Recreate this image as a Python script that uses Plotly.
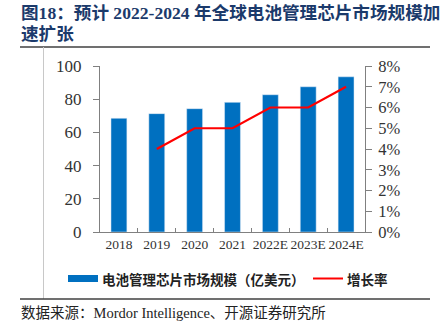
import plotly.graph_objects as go

years = ["2018", "2019", "2020", "2021", "2022E", "2023E", "2024E"]
market_size = [68.5, 71.3, 74.3, 78.1, 82.7, 87.5, 93.5]
growth_years = ["2019", "2020", "2021", "2022E", "2023E", "2024E"]
growth_rate = [0.04, 0.05, 0.05, 0.06, 0.06, 0.07]
left_ticks = [0, 20, 40, 60, 80, 100]
right_ticks = [0, 0.01, 0.02, 0.03, 0.04, 0.05, 0.06, 0.07, 0.08]

title_line1 = "图18：预计 2022-2024 年全球电池管理芯片市场规模加"
title_line2 = "速扩张"
bar_name = "电池管理芯片市场规模（亿美元）"
line_name = "增长率"
source_text = "数据来源：Mordor Intelligence、开源证券研究所"

W, H = 440, 335
L, R, T, B = 100, 365, 66, 232

def px(x):
    return (x - L) / (R - L)

def py(y):
    return (B - y) / (B - T)

BLUE = "#0070C0"
RED = "#FF0000"
AX = "#808080"
SERIF = "Liberation Serif, Times New Roman, Noto Sans CJK SC, serif"
SANS = "Noto Sans CJK SC, sans-serif"

fig = go.Figure()
fig.add_trace(go.Bar(x=years, y=market_size, name=bar_name, marker_color=BLUE,
                     width=0.42, yaxis="y", showlegend=False))
fig.add_trace(go.Scatter(x=growth_years, y=growth_rate, name=line_name, mode="lines",
                         line=dict(color=RED, width=2.2), yaxis="y2", showlegend=False))

fig.update_layout(
    width=W, height=H,
    margin=dict(l=L, r=W - R, t=T, b=H - B),
    paper_bgcolor="white", plot_bgcolor="white",
    xaxis=dict(type="category", showline=True, linecolor=AX, linewidth=1,
               ticks="inside", tickson="boundaries", ticklen=4, tickcolor=AX,
               tickangle=0,
               tickfont=dict(family=SERIF, size=13.5, color="#333333"),
               showgrid=False, zeroline=False),
    yaxis=dict(range=[0, 100], tickvals=left_ticks, showline=True, linecolor=AX,
               linewidth=1, ticks="outside", ticklen=6, tickcolor=AX,
               tickfont=dict(family=SERIF, size=17, color="#333333"),
               ticklabelstandoff=8, showgrid=False, zeroline=False),
    yaxis2=dict(range=[0, 0.08], tickvals=right_ticks, tickformat=".0%", overlaying="y",
                side="right", showline=True, linecolor=AX, linewidth=1,
                ticks="outside", ticklen=6, tickcolor=AX,
                tickfont=dict(family=SERIF, size=16.5, color="#333333"),
                ticklabelstandoff=3, showgrid=False, zeroline=False),
    bargap=0.58,
)

shapes = [
    dict(type="line", xref="paper", yref="paper", x0=px(20), x1=px(430), y0=py(47), y1=py(47),
         line=dict(color="#404040", width=1.5)),
    dict(type="line", xref="paper", yref="paper", x0=px(43.5), x1=px(43.5), y0=py(47), y1=py(299),
         line=dict(color="#C8C8C8", width=1)),
    dict(type="line", xref="paper", yref="paper", x0=px(20), x1=px(430), y0=py(299), y1=py(299),
         line=dict(color="#404040", width=1.5)),
    dict(type="rect", xref="paper", yref="paper", x0=px(68), x1=px(98), y0=py(275), y1=py(282),
         fillcolor=BLUE, line=dict(width=0)),
    dict(type="line", xref="paper", yref="paper", x0=px(313), x1=px(343), y0=py(278.5), y1=py(278.5),
         line=dict(color=RED, width=2)),
]

annotations = [
    dict(text="<b>" + title_line1 + "</b>", xref="paper", yref="paper", x=px(19), y=py(12.5),
         xanchor="left", yanchor="middle", showarrow=False, align="left",
         font=dict(family=SERIF, size=17.6, color="#1B3A6B")),
    dict(text="<b>" + title_line2 + "</b>", xref="paper", yref="paper", x=px(19), y=py(34),
         xanchor="left", yanchor="middle", showarrow=False, align="left",
         font=dict(family=SERIF, size=17.6, color="#1B3A6B")),
    dict(text="<b>" + bar_name + "</b>", xref="paper", yref="paper", x=px(100), y=py(278.5),
         xanchor="left", yanchor="middle", showarrow=False,
         font=dict(family=SANS, size=13.5, color="#222222")),
    dict(text="<b>" + line_name + "</b>", xref="paper", yref="paper", x=px(345), y=py(278.5),
         xanchor="left", yanchor="middle", showarrow=False,
         font=dict(family=SANS, size=13.5, color="#222222")),
    dict(text=source_text, xref="paper", yref="paper", x=px(19), y=py(313),
         xanchor="left", yanchor="middle", showarrow=False,
         font=dict(family=SERIF, size=14.5, color="#222222")),
]

fig.update_layout(shapes=shapes, annotations=annotations)
fig.write_html("out.html")
